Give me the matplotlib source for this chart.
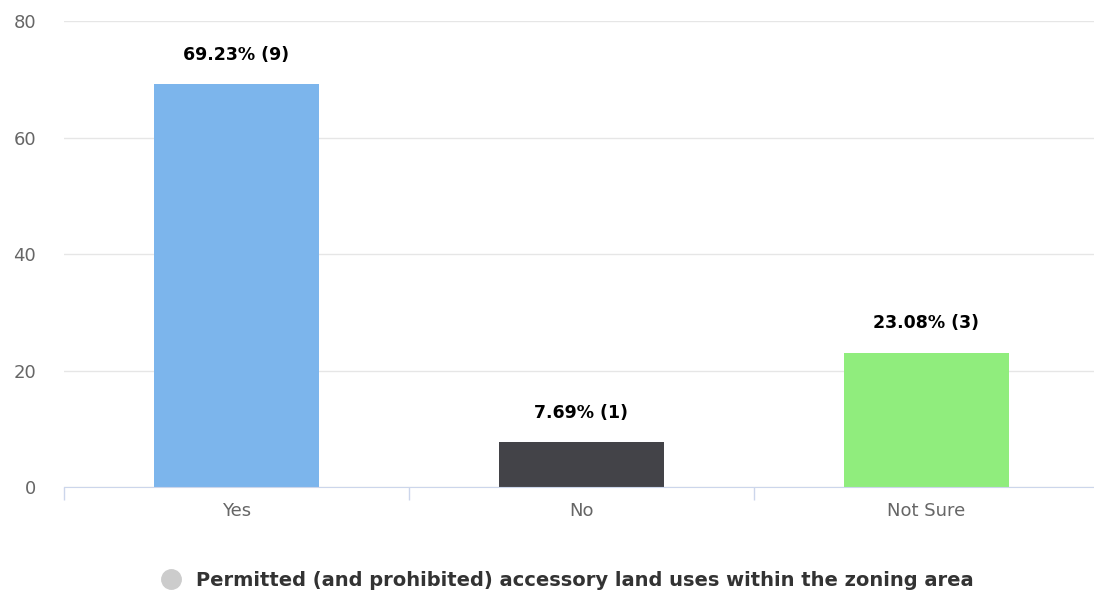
import matplotlib.pyplot as plt
from matplotlib.lines import Line2D

# survey answers and their shares
answers = ["Yes", "No", "Not Sure"]
percents = [69.23, 7.69, 23.08]
counts = [9, 1, 3]
colors = ["#7cb5ec", "#434348", "#90ed7d"]
yticks = [0, 20, 40, 60, 80]
series_name = "Permitted (and prohibited) accessory land uses within the zoning area"

plt.rcParams['font.family'] = ['DejaVu Sans']

fig = plt.figure(figsize=(10.94, 5.95), dpi=100)
ax = fig.add_axes([0.0585, 0.1815, 0.946, 0.7832])

x = range(len(answers))
ax.bar(x, percents, width=0.48, color=colors, zorder=3)

# value labels over the bars
for i, (p, c) in enumerate(zip(percents, counts)):
    ax.annotate(f"{p:.2f}% ({c})", (i, p), xytext=(0, 21), textcoords="offset points",
                ha="center", va="center", fontsize=12.5, fontweight="bold", color="black")

ax.set_xlim(-0.5, len(answers) - 0.5)
ax.set_ylim(0, 80)
ax.set_yticks(yticks)
ax.set_yticklabels([str(t) for t in yticks], fontsize=13, color="#666666")
ax.grid(axis="y", color="#e6e6e6", linewidth=1, zorder=0)
ax.tick_params(axis="y", length=0, pad=20)

# category labels in the middle, tick marks on the boundaries
ax.set_xticks(list(x))
ax.set_xticklabels(answers, fontsize=13, color="#666666")
ax.set_xticks([-0.5, 0.5, 1.5, 2.5], minor=True)
ax.tick_params(axis="x", which="major", length=0, pad=11)
ax.tick_params(axis="x", which="minor", length=9, color="#ccd6eb", width=1)

for side in ["top", "right", "left"]:
    ax.spines[side].set_visible(False)
ax.spines["bottom"].set_color("#ccd6eb")
ax.spines["bottom"].set_zorder(4)

# legend under the chart
handle = Line2D([], [], marker="o", linestyle="none", markersize=14,
                markerfacecolor="#cccccc", markeredgecolor="#cccccc")
fig.legend([handle], [series_name], loc="center", bbox_to_anchor=(0.514, 0.025),
           frameon=False, handletextpad=0.3,
           prop={"size": 14, "weight": "bold"}, labelcolor="#333333")

plt.savefig("out.png", dpi=100)
